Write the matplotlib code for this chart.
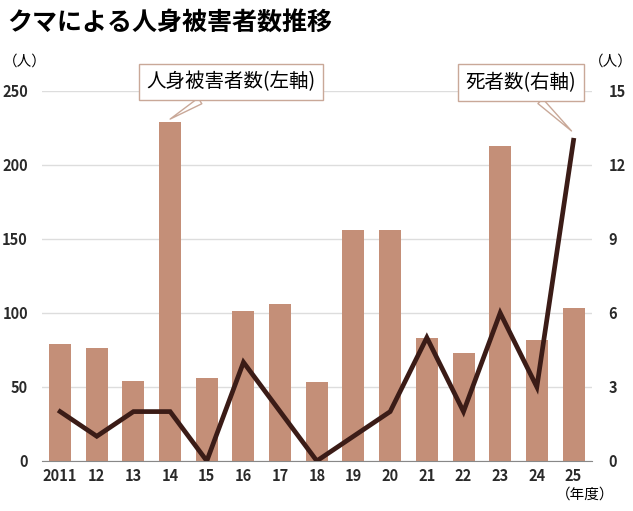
import matplotlib
matplotlib.use("Agg")
import matplotlib.pyplot as plt
import numpy as np

plt.rcParams['font.family'] = ['Noto Sans CJK JP', 'DejaVu Sans']

years = ["2011", "12", "13", "14", "15", "16", "17", "18", "19", "20", "21", "22", "23", "24", "25"]
victims = [79, 76, 54, 229, 56, 101, 106, 53, 156, 156, 83, 73, 213, 82, 103]
deaths = [2, 1, 2, 2, 0, 4, 2, 0, 1, 2, 5, 2, 6, 3, 13]

bar_color = "#c48f78"
line_color = "#3b1c17"
x = np.arange(len(years))

fig = plt.figure(figsize=(6.33, 5.11), dpi=100)
ax = fig.add_axes([0.066, 0.098, 0.869, 0.724])
ax2 = ax.twinx()

ax.bar(x, victims, width=0.6, color=bar_color, zorder=2)
ax.set_ylim(0, 250)
ax.set_xlim(-0.5, 14.5)
ax.set_yticks([0, 50, 100, 150, 200, 250])
ax.grid(axis='y', color='#dddddd', linewidth=1, zorder=0)
ax.set_xticks(x)
ax.set_xticklabels(years)

ax2.plot(x, deaths, color=line_color, linewidth=3.4, solid_joinstyle='miter', zorder=3)
ax2.set_ylim(0, 15)
ax2.set_yticks([0, 3, 6, 9, 12, 15])

for a in (ax, ax2):
    for s in a.spines.values():
        s.set_visible(False)
    a.tick_params(length=0, labelsize=10.5, colors='#2a2a2a')
    for lab in a.get_xticklabels() + a.get_yticklabels():
        lab.set_fontweight('bold')
ax.spines['bottom'].set_visible(True)
ax.spines['bottom'].set_color('#888888')
ax.tick_params(axis='y', pad=10)
ax2.tick_params(axis='y', pad=12)
ax.tick_params(axis='x', pad=5)

fig.text(0.012, 0.955, "クマによる人身被害者数推移", fontsize=18, fontweight='bold', va='center', ha='left')
fig.text(0.005, 0.88, "（人）", fontsize=10.5, va='center', ha='left')
fig.text(0.93, 0.88, "（人）", fontsize=10.5, va='center', ha='left')
fig.text(0.925, 0.032, "（年度）", fontsize=10.5, va='center', ha='center')

box = dict(boxstyle="square,pad=0.4", fc='white', ec='#c9a898', lw=1)
ax.annotate("人身被害者数(左軸)", xy=(3.0, 231), xytext=(2.35, 256),
            fontsize=14, va='center', ha='left', bbox=box, annotation_clip=False,
            arrowprops=dict(arrowstyle="wedge,tail_width=0.35", fc='white', ec='#c9a898', lw=1,
                            shrinkA=0, shrinkB=0), zorder=5)
ax2.annotate("死者数(右軸)", xy=(14.0, 13.3), xytext=(11.05, 15.35),
             fontsize=14, va='center', ha='left', bbox=box, annotation_clip=False,
             arrowprops=dict(arrowstyle="wedge,tail_width=0.35", fc='white', ec='#c9a898', lw=1,
                             shrinkA=0, shrinkB=2), zorder=5)

fig.savefig("out.png", dpi=100)
